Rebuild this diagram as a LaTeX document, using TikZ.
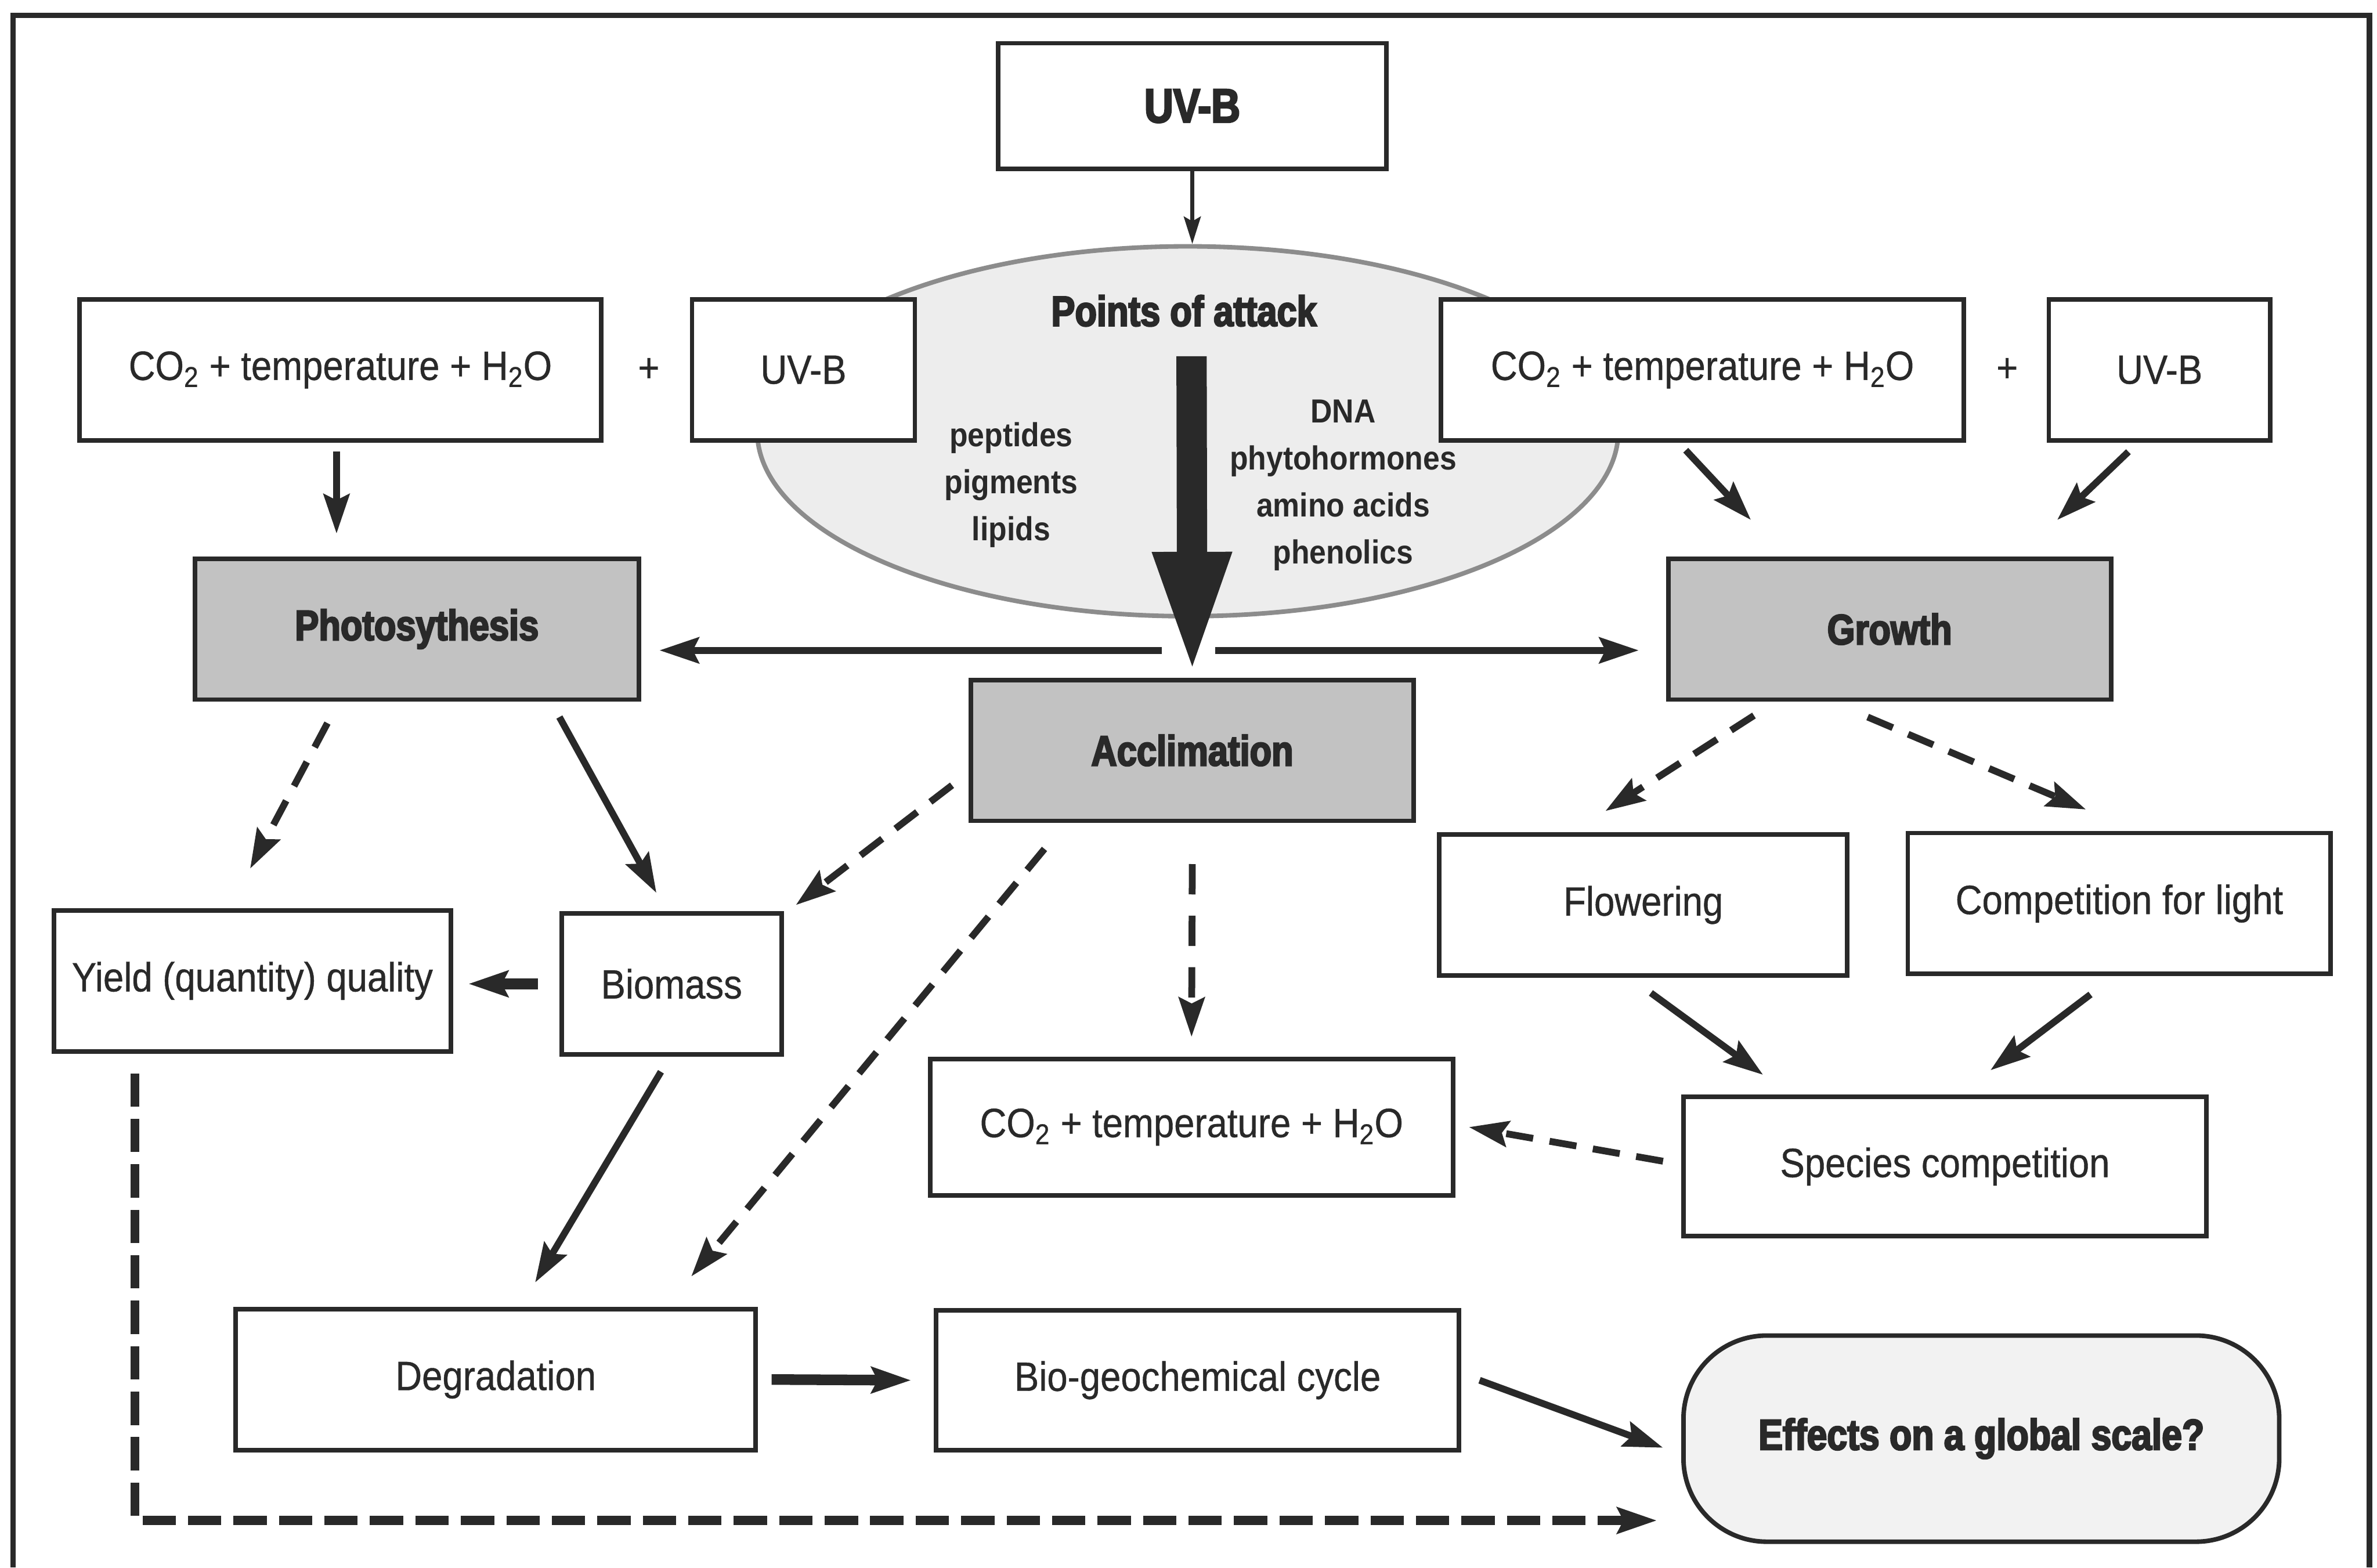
\documentclass[tikz,border=0pt]{standalone}
\usepackage{fontspec}
\setmainfont{Liberation Sans}[FakeStretch=0.9, UprightFeatures={FakeBold=0.6}]
\newfontfamily\heavy{Liberation Sans}[FakeStretch=0.84, BoldFeatures={FakeBold=3.5}]
\usetikzlibrary{arrows.meta,shapes.geometric}
\definecolor{ink}{gray}{0.16}
\begin{document}
\begin{tikzpicture}[x=1pt,y=-1pt,
  box/.style={draw=ink, line width=3pt, fill=white, inner sep=0pt, text=ink,
    font=\fontsize{27}{32}\selectfont, align=center},
  gbox/.style={box, fill=black!24, font=\heavy\bfseries\fontsize{28}{32}\selectfont},
  lst/.style={text=ink, align=center, font=\bfseries\fontsize{22}{31}\selectfont},
  arr/.style={draw=ink, line width=4.5pt, -{Stealth[length=26pt,width=17pt,inset=4pt]}},
  darr/.style={arr, dash pattern=on 18pt off 11pt},
  thinarr/.style={draw=ink, line width=3pt, -{Stealth[length=18pt,width=11pt,inset=3pt]}},
  bigarr/.style={draw=ink, line width=20pt, -{Triangle[length=83pt,width=46pt]}}
]
\useasboundingbox (0,0) rectangle (1568,1034);
\fill[white] (0,0) rectangle (1568,1034);
% outer frame (open at the bottom edge of the picture)
\draw[ink, line width=3.5pt] (8.5,1034) -- (8.5,10) -- (1563,10) -- (1563,1034);

% ellipse behind
\node[ellipse, draw=black!45, line width=3pt, fill=black!7, minimum width=568pt, minimum height=244pt] (ell) at (783.5,284.5) {};
\node[text=ink, font=\heavy\bfseries\fontsize{28}{30}\selectfont] (poa) at (781,205) {Points of attack};
\node[lst] (llist) at (667,320) {peptides\\pigments\\lipids};
\node[lst] (rlist) at (886,320) {DNA\\phytohormones\\amino acids\\phenolics};

% boxes
\node[box, minimum width=256pt, minimum height=83pt, font=\heavy\bfseries\fontsize{31.5}{34}\selectfont] (uvtop) at (786.5,70) {UV-B};
\node[box, minimum width=344pt, minimum height=93pt] (co2l) at (224.5,244) {CO\textsubscript{2} + temperature + H\textsubscript{2}O};
\node[text=ink, font=\fontsize{27}{32}\selectfont] (plusl) at (428,244) {+};
\node[box, minimum width=147pt, minimum height=93pt] (uvl) at (530,244) {UV-B};
\node[box, minimum width=345pt, minimum height=93pt] (co2r) at (1123,244) {CO\textsubscript{2} + temperature + H\textsubscript{2}O};
\node[text=ink, font=\fontsize{27}{32}\selectfont] (plusr) at (1324,244) {+};
\node[box, minimum width=146pt, minimum height=93pt] (uvr) at (1424.5,244) {UV-B};

\node[gbox, minimum width=293pt, minimum height=93pt] (photo) at (275,415) {Photosythesis};
\node[gbox, minimum width=292pt, minimum height=93pt] (growth) at (1246.5,415) {Growth};
\node[gbox, minimum width=292pt, minimum height=93pt] (accl) at (786.5,495) {Acclimation};

\node[box, minimum width=262pt, minimum height=93pt] (yield) at (166.5,647) {Yield (quantity) quality};
\node[box, minimum width=145pt, minimum height=93pt] (biomass) at (443,649) {Biomass};
\node[box, minimum width=269pt, minimum height=93pt] (flower) at (1084,597) {Flowering};
\node[box, minimum width=279pt, minimum height=93pt] (complight) at (1398,596) {Competition for light};
\node[box, minimum width=345pt, minimum height=90pt] (co2b) at (786,743.5) {CO\textsubscript{2} + temperature + H\textsubscript{2}O};
\node[box, minimum width=345pt, minimum height=92pt] (species) at (1283,769.5) {Species competition};
\node[box, minimum width=343pt, minimum height=93pt] (degr) at (327,910) {Degradation};
\node[box, minimum width=345pt, minimum height=92pt] (bio) at (790,910.5) {Bio-geochemical cycle};
\node[box, fill=black!5, rounded corners=55pt, minimum width=393pt, minimum height=136pt,
  font=\heavy\bfseries\fontsize{28.5}{32}\selectfont] (effects) at (1307,949) {Effects on a global scale?};

% connectors
\draw[thinarr] (uvtop.south) -- (uvtop.south |- ell.north);
\draw[bigarr] ([xshift=2.5pt,yshift=49.5pt]ell.center) -- (accl.north);
\draw[arr] ([xshift=-20pt,yshift=18pt]accl.north) -- ([xshift=12pt,yshift=-14pt]photo.east);
\draw[arr] ([xshift=15pt,yshift=18pt]accl.north) -- ([xshift=-18pt,yshift=-14pt]growth.west);

\draw[arr] ([xshift=-2.5pt,yshift=-6pt]co2l.south) -- ([xshift=-53pt,yshift=15pt]photo.north);
\draw[arr] ([xshift=-11pt,yshift=-5pt]co2r.south) -- ([xshift=-91.5pt,yshift=24pt]growth.north);
\draw[arr] ([xshift=-20.5pt,yshift=-6pt]uvr.south) -- ([xshift=110.5pt,yshift=24pt]growth.north);

\draw[darr] ([xshift=-59pt,yshift=-14pt]photo.south) -- ([xshift=-1.5pt,yshift=26pt]yield.north);
\draw[arr] ([xshift=94pt,yshift=-10pt]photo.south) -- ([xshift=-10pt,yshift=12pt]biomass.north);
\draw[darr] ([xshift=-11pt,yshift=-23pt]accl.west) -- ([xshift=8pt,yshift=4pt]biomass.north east);
\draw[darr] ([xshift=-97.5pt,yshift=-17pt]accl.south) -- ([xshift=129pt,yshift=20pt]degr.north);
\draw[darr, dash pattern=on 20pt off 14pt] ([yshift=-27pt]accl.south) -- ([yshift=13pt]co2b.north);
\draw[arr, line width=7pt] ([xshift=-14pt]biomass.west) -- ([xshift=10pt,yshift=-2pt]yield.east);
\draw[arr] ([xshift=-7pt,yshift=-10pt]biomass.south) -- ([xshift=26pt,yshift=16pt]degr.north);
\draw[darr, line width=6pt, dash pattern=on 22pt off 8pt] ([xshift=-77.5pt,yshift=-13pt]yield.south) |- ([xshift=-16pt,yshift=-54pt]effects.west);

\draw[darr] ([xshift=-89.5pt,yshift=-9pt]growth.south) -- ([xshift=-25pt,yshift=14pt]flower.north);
\draw[darr] ([xshift=-14.5pt,yshift=-10pt]growth.south) -- ([xshift=-22pt,yshift=14pt]complight.north);
\draw[arr] ([xshift=5pt,yshift=-10pt]flower.south) -- ([xshift=-120pt,yshift=13pt]species.north);
\draw[arr] ([xshift=-19pt,yshift=-12pt]complight.south) -- ([xshift=30pt,yshift=16pt]species.north);
\draw[darr] ([xshift=-12pt,yshift=3.5pt]species.west) -- ([xshift=9pt]co2b.east);
\draw[arr, line width=7pt] ([xshift=9pt]degr.east) -- ([xshift=-15pt]bio.west);
\draw[arr] ([xshift=12pt]bio.east) -- ([xshift=-12pt,yshift=-6pt]effects.west);
\end{tikzpicture}
\end{document}
